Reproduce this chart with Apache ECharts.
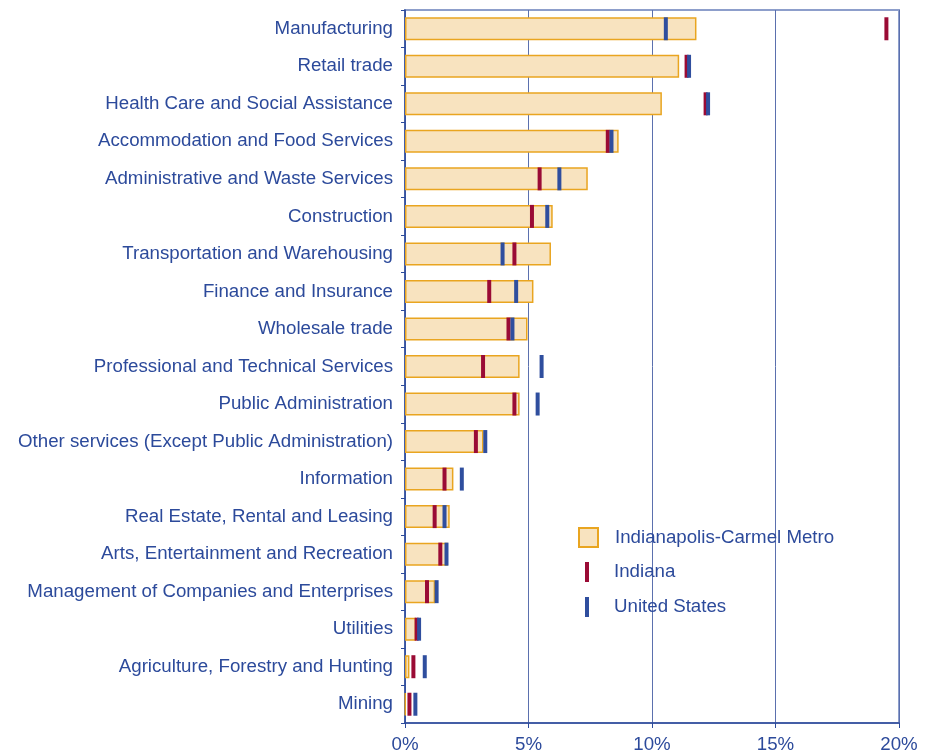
<!DOCTYPE html>
<html>
<head>
<meta charset="utf-8">
<script src="https://cdn.jsdelivr.net/npm/echarts@6/dist/echarts.min.js"></script>
<style>
  html, body { margin: 0; padding: 0; background: #fff; }
  #chart { width: 937px; height: 755px; }
</style>
</head>
<body>
<div id="chart"></div>
<script>
// industries, top to bottom
const industries = [
    'Manufacturing', 'Retail trade', 'Health Care and Social Assistance',
    'Accommodation and Food Services', 'Administrative and Waste Services',
    'Construction', 'Transportation and Warehousing', 'Finance and Insurance',
    'Wholesale trade', 'Professional and Technical Services', 'Public Administration',
    'Other services (Except Public Administration)', 'Information',
    'Real Estate, Rental and Leasing', 'Arts, Entertainment and Recreation',
    'Management of Companies and Enterprises', 'Utilities',
    'Agriculture, Forestry and Hunting', 'Mining'
];
// share of employment, %
const metro = [11.8, 11.1, 10.4, 8.65, 7.4, 5.98, 5.91, 5.2, 4.96, 4.64, 4.64, 3.18, 1.96, 1.81, 1.73, 1.22, 0.45, 0.18, 0.02];
const indiana = [19.49, 11.4, 12.17, 8.21, 5.45, 5.14, 4.43, 3.41, 4.19, 3.16, 4.43, 2.87, 1.6, 1.2, 1.43, 0.89, 0.47, 0.34, 0.18];
const usa = [10.56, 11.5, 12.27, 8.36, 6.25, 5.76, 3.95, 4.5, 4.35, 5.53, 5.37, 3.25, 2.3, 1.6, 1.68, 1.28, 0.57, 0.8, 0.42];
const xTicks = [0, 5, 10, 15, 20];

const blueText = '#2c4a9b';
const redMark = '#9a0b35';
const blueMark = '#2f4e9e';
const fontSz = 18.7;

let chart = echarts.init(document.getElementById('chart'));

function markerSeries(name, values, color) {
    return {
        name: name,
        type: 'scatter',
        symbol: 'rect',
        symbolSize: [4, 23],
        itemStyle: { color: color, opacity: 1 },
        data: values.map(function (v, i) { return [v, industries[i]]; }),
        z: 5
    };
}

const option = {
    animation: false,
    textStyle: { fontFamily: 'Liberation Sans, Arial, sans-serif' },
    grid: {
        left: 405, right: 38, top: 10, bottom: 32,
        show: true, borderColor: '#8d9ecb', borderWidth: 2
    },
    xAxis: {
        type: 'value',
        min: 0, max: 20, interval: 5,
        axisLine: { show: true, lineStyle: { color: '#2c4a9b', width: 1.5 } },
        axisTick: { show: true, length: 5, lineStyle: { color: '#2c4a9b' } },
        axisLabel: {
            color: blueText, fontSize: fontSz, margin: 12,
            formatter: function (v) { return xTicks.indexOf(v) >= 0 ? v + '%' : ''; }
        },
        splitLine: { show: true, lineStyle: { color: '#5b70ae', width: 1 } }
    },
    yAxis: {
        type: 'category',
        inverse: true,
        data: industries,
        axisLine: { show: true, lineStyle: { color: '#2c4a9b', width: 1.5 } },
        axisTick: { show: true, length: 4, lineStyle: { color: '#2c4a9b' } },
        axisLabel: { color: blueText, fontSize: fontSz, margin: 12 },
        splitLine: { show: false }
    },
    legend: [
        {
            data: ['Indianapolis-Carmel Metro'],
            left: 578, top: 527,
            itemWidth: 19, itemHeight: 19,
            icon: 'rect',
            textStyle: { color: blueText, fontSize: fontSz, padding: [0, 0, 0, 12] },
            padding: 0
        },
        {
            data: ['Indiana'],
            left: 585, top: 562,
            itemWidth: 4, itemHeight: 20,
            icon: 'rect',
            textStyle: { color: blueText, fontSize: fontSz, padding: [0, 0, 0, 20] },
            padding: 0
        },
        {
            data: ['United States'],
            left: 585, top: 597,
            itemWidth: 4, itemHeight: 20,
            icon: 'rect',
            textStyle: { color: blueText, fontSize: fontSz, padding: [0, 0, 0, 20] },
            padding: 0
        }
    ],
    series: [
        {
            name: 'Indianapolis-Carmel Metro',
            type: 'bar',
            data: metro,
            barWidth: 23,
            itemStyle: { color: '#f8e3bf', borderColor: '#e9a520', borderWidth: 1.5 },
            z: 2
        },
        markerSeries('Indiana', indiana, redMark),
        markerSeries('United States', usa, blueMark)
    ]
};

chart.setOption(option);
</script>
</body>
</html>
